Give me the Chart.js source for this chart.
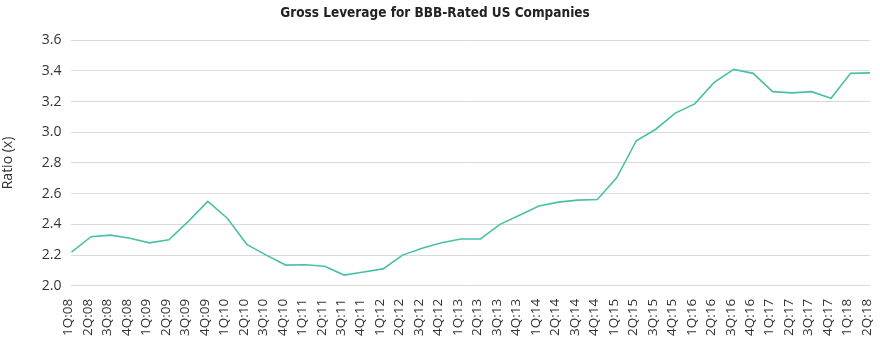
<!DOCTYPE html>
<html>
<head>
<meta charset="utf-8">
<script src="https://cdn.jsdelivr.net/npm/chart.js@4"></script>
<style>
  html, body { margin: 0; padding: 0; background: #fff; }
  #wrap { width: 880px; height: 345px; position: relative; }
</style>
</head>
<body>
<div id="wrap"><canvas id="leverageChart"></canvas></div>
<script>
// Quarterly labels, 1Q:08 through 2Q:18
const quarters = [
  '1Q:08', '2Q:08', '3Q:08', '4Q:08',
  '1Q:09', '2Q:09', '3Q:09', '4Q:09',
  '1Q:10', '2Q:10', '3Q:10', '4Q:10',
  '1Q:11', '2Q:11', '3Q:11', '4Q:11',
  '1Q:12', '2Q:12', '3Q:12', '4Q:12',
  '1Q:13', '2Q:13', '3Q:13', '4Q:13',
  '1Q:14', '2Q:14', '3Q:14', '4Q:14',
  '1Q:15', '2Q:15', '3Q:15', '4Q:15',
  '1Q:16', '2Q:16', '3Q:16', '4Q:16',
  '1Q:17', '2Q:17', '3Q:17', '4Q:17',
  '1Q:18', '2Q:18'
];

// Gross leverage ratio (x)
const grossLeverage = [
  2.22, 2.32, 2.33, 2.31, 2.28, 2.30, 2.42, 2.55,
  2.44, 2.27, 2.20, 2.135, 2.137, 2.127, 2.07, 2.09,
  2.11, 2.20, 2.245, 2.28, 2.305, 2.305, 2.40, 2.46,
  2.52, 2.545, 2.558, 2.562, 2.705, 2.945, 3.02, 3.125,
  3.185, 3.325, 3.41, 3.384, 3.265, 3.257, 3.265, 3.222,
  3.384, 3.387
];

const yMin = 2.0;
const yMax = 3.6;
const yStep = 0.2;

const tickFont = { family: "'Open Sans', 'Noto Sans', sans-serif", size: 14 };

new Chart(document.getElementById('leverageChart'), {
  type: 'line',
  data: {
    labels: quarters,
    datasets: [{
      label: 'Gross Leverage',
      data: grossLeverage,
      borderColor: '#4cbfa9',
      borderWidth: 1.6,
      pointRadius: 0,
      tension: 0,
      fill: false
    }]
  },
  options: {
    responsive: true,
    maintainAspectRatio: false,
    animation: false,
    layout: { padding: { top: 2, right: 10, bottom: 4, left: 0 } },
    plugins: {
      legend: { display: false },
      tooltip: { enabled: false },
      title: {
        display: true,
        text: 'Gross Leverage for BBB-Rated US Companies',
        color: '#222',
        font: { family: "'Liberation Sans Narrow', 'DejaVu Sans Condensed', sans-serif", size: 13.5, weight: 'bold' },
        padding: { top: 3, bottom: 19 }
      }
    },
    scales: {
      x: {
        offset: false,
        grid: { display: false },
        border: { display: false },
        ticks: {
          color: '#333',
          font: { family: tickFont.family, size: 13.5 },
          maxRotation: 90,
          minRotation: 90,
          autoSkip: false,
          labelOffset: -3,
          padding: 5
        },
        // let the last rotated label sit near the edge instead of reserving space for it
        afterFit: (scale) => { scale.paddingRight = 0; }
      },
      y: {
        min: yMin,
        max: yMax,
        border: { display: false },
        grid: { color: '#d9d9d9', lineWidth: 1, drawTicks: false },
        ticks: {
          stepSize: yStep,
          color: '#333',
          font: tickFont,
          padding: 10,
          callback: (v) => v.toFixed(1)
        },
        title: {
          display: true,
          text: 'Ratio (x)',
          color: '#333',
          font: tickFont,
          padding: { top: 0, bottom: 15 }
        }
      }
    }
  }
});
</script>
</body>
</html>
